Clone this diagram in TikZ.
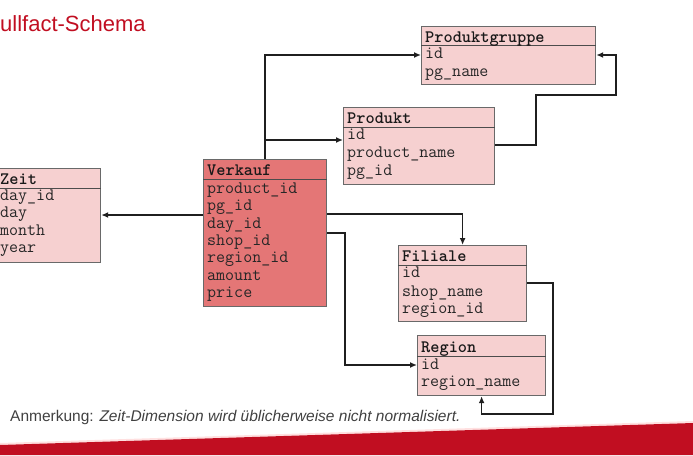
\documentclass[tikz,border=0pt]{standalone}
\usepackage{fontspec}
\setmainfont{Liberation Sans}
\usetikzlibrary{arrows.meta}
\definecolor{hsred}{RGB}{193,14,33}
\definecolor{tabfill}{RGB}{246,208,208}
\definecolor{factfill}{RGB}{228,118,118}
\definecolor{tabedge}{RGB}{105,105,105}
\definecolor{notegray}{RGB}{64,64,64}
\begin{document}
\begin{tikzpicture}[x=1pt,y=-1pt,
  tbl/.style={draw=tabedge, line width=1.2pt, fill=tabfill, anchor=north west, inner sep=0pt},
  fact/.style={tbl, fill=factfill},
  sepline/.style={draw=black!70, line width=1pt},
  hdr/.style={anchor=base west, inner sep=0pt, font=\fontsize{17.5}{20}\ttfamily\bfseries, text=black!90},
  row/.style={anchor=base west, inner sep=0pt, font=\fontsize{17.5}{20}\ttfamily, text=black!85},
  conn/.style={draw=black!88, line width=1.7pt, -{Latex[length=7pt,width=6pt]}},
]
\useasboundingbox (0,0) rectangle (693,455);

% title and footnote
\node[anchor=base west, inner sep=0pt, text=hsred, font=\fontsize{22}{26}\selectfont] (title) at (0,31) {ullfact-Schema};
\node[anchor=base west, inner sep=0pt, text=notegray, font=\fontsize{15.5}{18}\selectfont] (note) at (10,421)
  {Anmerkung: \textit{Zeit-Dimension wird üblicherweise nicht normalisiert.}};

% red footer band
\fill[red!12] (0,443) -- (693,421) -- (693,423) -- (0,445) -- cycle;
\fill[hsred] (0,445) -- (693,423) -- (693,455) -- (0,455) -- cycle;

% table frames
\node[tbl, minimum width=174pt, minimum height=58pt] (pg) at (421,26) {};
\node[tbl, minimum width=151pt, minimum height=77pt] (prod) at (343,107) {};
\node[tbl, minimum width=110pt, minimum height=94pt] (zeit) at (-10,168) {};
\node[fact, minimum width=123pt, minimum height=147pt] (verkauf) at (203,159) {};
\node[tbl, minimum width=128pt, minimum height=76pt] (filiale) at (398,245) {};
\node[tbl, minimum width=128pt, minimum height=60pt] (region) at (417,335) {};

% header separators
\draw[sepline] ([yshift=-19pt]pg.north west) -- ([yshift=-19pt]pg.north east);
\draw[sepline] ([yshift=-20pt]prod.north west) -- ([yshift=-20pt]prod.north east);
\draw[sepline] ([yshift=-20pt]zeit.north west) -- ([yshift=-20pt]zeit.north east);
\draw[sepline] ([yshift=-20pt]verkauf.north west) -- ([yshift=-20pt]verkauf.north east);
\draw[sepline] ([yshift=-20pt]filiale.north west) -- ([yshift=-20pt]filiale.north east);
\draw[sepline] ([yshift=-21pt]region.north west) -- ([yshift=-21pt]region.north east);

% Produktgruppe
\node[hdr] (pg-h) at (425,42) {Produktgruppe};
\node[row] (pg-id) at (425,58) {id};
\node[row] (pg-name) at (425,76) {pg\_name};

% Produkt
\node[hdr] (prod-h) at (347,123) {Produkt};
\node[row] (prod-id) at (347,139.5) {id};
\node[row] (prod-name) at (347,157) {product\_name};
\node[row] (prod-pg) at (347,175) {pg\_id};

% Zeit
\node[hdr] (zeit-h) at (0,184) {Zeit};
\node[row] (zeit-dayid) at (0,200) {day\_id};
\node[row] (zeit-day) at (0,217.5) {day};
\node[row] (zeit-month) at (0,235) {month};
\node[row] (zeit-year) at (0,252.5) {year};

% Verkauf
\node[hdr] (vk-h) at (207,175.5) {Verkauf};
\node[row] (vk-prod) at (207,193) {product\_id};
\node[row] (vk-pg) at (207,210.5) {pg\_id};
\node[row] (vk-day) at (207,228) {day\_id};
\node[row] (vk-shop) at (207,245) {shop\_id};
\node[row] (vk-region) at (207,262.5) {region\_id};
\node[row] (vk-amount) at (207,280) {amount};
\node[row] (vk-price) at (207,297.5) {price};

% Filiale
\node[hdr] (fil-h) at (402,261.5) {Filiale};
\node[row] (fil-id) at (402,277.5) {id};
\node[row] (fil-name) at (402,296) {shop\_name};
\node[row] (fil-region) at (402,313.5) {region\_id};

% Region
\node[hdr] (reg-h) at (421,352.5) {Region};
\node[row] (reg-id) at (421,369) {id};
\node[row] (reg-name) at (421,386.5) {region\_name};

% references
\draw[conn] (verkauf.north) |- ([yshift=-29pt]pg.north west);
\draw[conn] ([yshift=-33pt]prod.north west -| verkauf.north) -- ([yshift=-33pt]prod.north west);
\draw[conn] ([yshift=-38pt]prod.north east) -- ++(41,0) -- ++(0,-50) -- ++(80,0) |- ([yshift=-29pt]pg.north east);
\draw[conn] ([yshift=-56pt]verkauf.north west) -- ([yshift=-47pt]zeit.north east);
\draw[conn] ([yshift=-55pt]verkauf.north east) -| (filiale.north);
\draw[conn] ([yshift=-74pt]verkauf.north east) -- ++(18,0) |- ([yshift=-30pt]region.north west);
\draw[conn] ([yshift=-38pt]filiale.north east) -- ++(26,0) -- ++(0,131) -| (region.south);
\end{tikzpicture}
\end{document}
